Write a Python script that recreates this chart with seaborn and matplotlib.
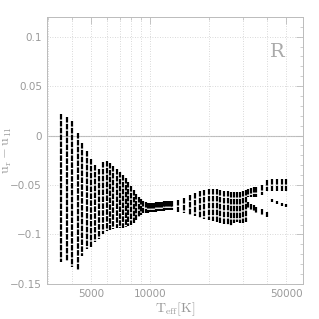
import numpy as np
import pandas as pd
import matplotlib
matplotlib.use("Agg")
import matplotlib.pyplot as plt
import matplotlib.ticker as mticker
import seaborn as sns

# columnas del grid de modelos (Teff) con el rango de u_r - u_11
teff_cols = [3500, 3750, 4000, 4250, 4500, 4750, 5000, 5250, 5500, 5750,
             6000, 6250, 6500, 6750, 7000, 7250, 7500, 7750, 8000, 8250,
             8500, 8750, 9000, 9250, 9500, 9750, 10000, 10250, 10500, 10750,
             11000, 11250, 11500, 11750, 12000, 12250, 12500, 12750, 13000,
             14000, 15000, 16000, 17000, 18000, 19000, 20000, 21000, 22000,
             23000, 24000, 25000, 26000, 27000, 28000, 29000, 30000, 31000,
             32000, 33000, 34000, 35000, 37500, 40000, 42500, 45000, 47500, 50000]
top_cols = [0.022, 0.019, 0.015, 0.003, -0.008, -0.016, -0.024, -0.030, -0.034, -0.027,
            -0.026, -0.028, -0.031, -0.034, -0.037, -0.040, -0.043, -0.047, -0.051, -0.055,
            -0.059, -0.062, -0.064, -0.066, -0.067, -0.068, -0.068, -0.068, -0.068, -0.067,
            -0.067, -0.067, -0.067, -0.066, -0.066, -0.066, -0.066, -0.066, -0.066,
            -0.065, -0.063, -0.060, -0.058, -0.056, -0.055, -0.054, -0.054, -0.054,
            -0.055, -0.056, -0.056, -0.057, -0.057, -0.057, -0.057, -0.056, -0.055,
            -0.054, -0.053, -0.052, -0.052, -0.050, -0.045, -0.044, -0.044, -0.044, -0.044]
bot_cols = [-0.128, -0.127, -0.133, -0.136, -0.122, -0.115, -0.113, -0.108, -0.105, -0.100,
            -0.097, -0.095, -0.094, -0.093, -0.093, -0.093, -0.092, -0.091, -0.090, -0.088,
            -0.085, -0.082, -0.080, -0.078, -0.078, -0.078, -0.077, -0.077, -0.077, -0.077,
            -0.076, -0.076, -0.076, -0.076, -0.075, -0.075, -0.075, -0.075, -0.075,
            -0.077, -0.078, -0.080, -0.081, -0.083, -0.084, -0.085, -0.086, -0.087,
            -0.088, -0.089, -0.090, -0.091, -0.088, -0.087, -0.088, -0.088, -0.087,
            -0.062, -0.062, -0.062, -0.062, -0.060, -0.056, -0.056, -0.056, -0.056, -0.056]

# trazas inferiores de las columnas calientes
track_teff = [32000, 33000, 34000, 35000, 37500, 40000,
              42500, 45000, 47500, 50000]
track_hi = [-0.067, -0.069, -0.070, -0.072, -0.074, -0.077,
            -0.064, -0.066, -0.068, -0.069]
track_lo = [-0.073, -0.075, -0.076, -0.078, -0.080, -0.082,
            -0.067, -0.069, -0.071, -0.072]

# armado de segmentos verticales
filas = []
seg = 0
for t, hi, lo in list(zip(teff_cols, top_cols, bot_cols)) + list(zip(track_teff, track_hi, track_lo)):
    filas.append({"teff": t, "u": hi, "seg": seg})
    filas.append({"teff": t, "u": lo, "seg": seg})
    seg += 1
df = pd.DataFrame(filas)

sns.set_style("white")
plt.rcParams["font.family"] = ["DejaVu Sans"]
plt.rcParams["mathtext.fontset"] = "cm"

gris = "#9a9a9a"
fig = plt.figure(figsize=(3.19, 3.19), dpi=100)
ax = fig.add_axes([0.147, 0.110, 0.803, 0.837])

sns.lineplot(data=df, x="teff", y="u", units="seg", estimator=None, sort=False,
             color="black", lw=1.6, linestyle=(0, (2.5, 0.6)), ax=ax)

ax.set_xscale("log")
ax.set_xlim(2960, 61000)
ax.set_ylim(-0.15, 0.12)

ax.axhline(0, color="#bbbbbb", lw=0.8, zorder=0)

ax.xaxis.set_major_locator(mticker.FixedLocator([5000, 10000, 50000]))
ax.xaxis.set_major_formatter(mticker.FixedFormatter(["5000", "10000", "50000"]))
ax.xaxis.set_minor_locator(mticker.FixedLocator([3000, 4000, 6000, 7000, 8000, 9000,
                                                 20000, 30000, 40000]))
ax.xaxis.set_minor_formatter(mticker.NullFormatter())
ax.yaxis.set_major_locator(mticker.MultipleLocator(0.05))
ax.yaxis.set_minor_locator(mticker.MultipleLocator(0.01))
ax.yaxis.set_major_formatter(mticker.FuncFormatter(
    lambda v, p: "0" if abs(v) < 1e-9 else ("%g" % round(v, 2)).replace("-", "\u2212")))

ax.grid(True, which="both", axis="x", color="#cccccc", ls=(0, (1, 2)), lw=0.6)
ax.grid(True, which="major", axis="y", color="#cccccc", ls=(0, (1, 2)), lw=0.6)

ax.tick_params(which="both", direction="in", top=True, right=True, colors="#bbbbbb",
               labelcolor=gris, labelsize=7.5)
ax.tick_params(which="major", length=5, width=0.6)
ax.tick_params(which="minor", length=2.5, width=0.5)
for s in ax.spines.values():
    s.set_color("#bbbbbb")
    s.set_linewidth(0.7)

ax.set_xlabel(r"$\mathrm{T_{eff}[K]}$", color=gris, fontsize=10, labelpad=1)
ax.set_ylabel(r"$\mathrm{u_r - u_{11}}$", color=gris, fontsize=10)
ax.yaxis.set_label_coords(-0.13, 0.5)
ax.text(0.90, 0.87, "R", transform=ax.transAxes, color="#aaaaaa", fontsize=14,
        family="DejaVu Serif", ha="center", va="center")

fig.savefig("out.png", dpi=100)
